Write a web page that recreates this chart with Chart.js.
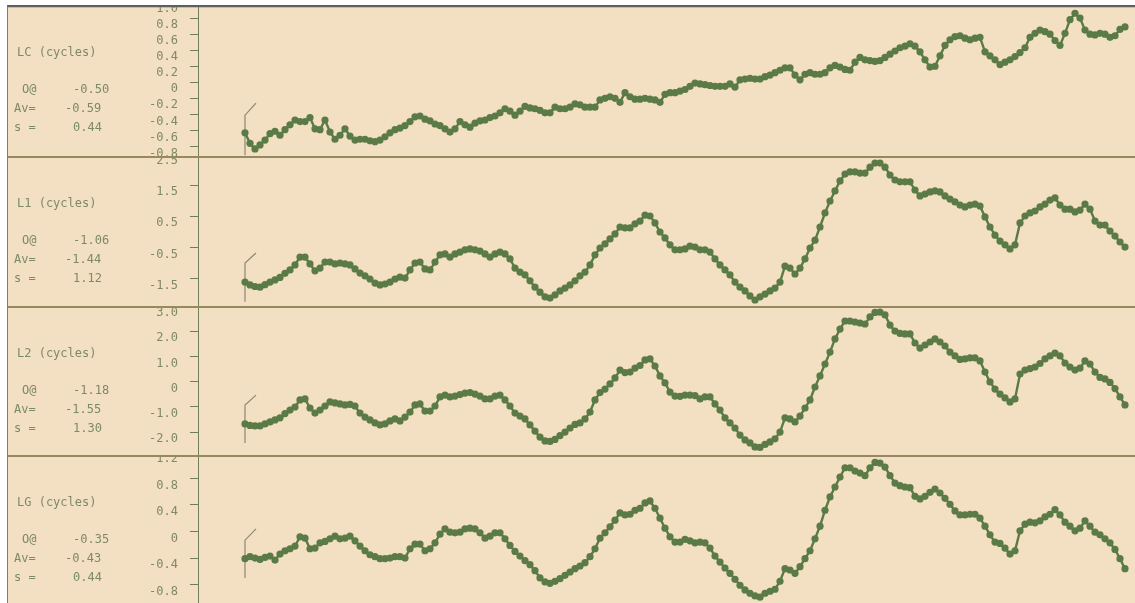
<!DOCTYPE html>
<html>
<head>
<meta charset="utf-8">
<script src="https://cdn.jsdelivr.net/npm/chart.js@4.4.1/dist/chart.umd.min.js"></script>
<style>
  html, body { margin: 0; padding: 0; background: #ffffff; width: 1135px; height: 603px; overflow: hidden; }
  #frame { position: absolute; left: 7px; top: 5px; width: 1128px; height: 598px; background: #f3dfc1;
           border-left: 1px solid #7c7c78; border-top: 2px solid #5f5f5c; box-sizing: border-box; }
  #frame::after { content: ""; position: absolute; left: 0; right: 0; top: 0; height: 1px; background: #dcb980; }
  canvas { position: absolute; left: 0; }
  .sep { position: absolute; left: 8px; width: 1127px; height: 2px; background: #958a5f; z-index: 5; }
  .txt { position: absolute; font-family: "DejaVu Sans Mono", monospace; font-size: 12px; line-height: 14px;
         color: #7d8a68; white-space: pre; z-index: 4; }
</style>
</head>
<body>
<div id="frame"></div>
<script>
// Trace names and their summary statistics (origin, average, spread)
const panelNames = ['LC', 'L1', 'L2', 'LG'];
const originValues = ['-0.50', '-1.06', '-1.18', '-0.35'];
const averageValues = ['-0.59', '-1.44', '-1.55', '-0.43'];
const spreadValues = ['0.44', '1.12', '1.30', '0.44'];

// Phase series in cycles, one sample per epoch
const lcValues = [
  -0.63, -0.76, -0.83, -0.78, -0.72, -0.64, -0.61, -0.66, -0.59, -0.53,
  -0.47, -0.49, -0.49, -0.44, -0.58, -0.59, -0.47, -0.62, -0.71, -0.66,
  -0.58, -0.67, -0.72, -0.71, -0.71, -0.73, -0.74, -0.72, -0.68, -0.63,
  -0.59, -0.57, -0.54, -0.49, -0.43, -0.42, -0.46, -0.48, -0.52, -0.54,
  -0.58, -0.62, -0.58, -0.49, -0.53, -0.56, -0.51, -0.48, -0.47, -0.44,
  -0.42, -0.38, -0.33, -0.36, -0.41, -0.36, -0.30, -0.32, -0.33, -0.35,
  -0.38, -0.38, -0.31, -0.33, -0.33, -0.31, -0.27, -0.28, -0.31, -0.31,
  -0.31, -0.22, -0.20, -0.18, -0.20, -0.25, -0.13, -0.18, -0.21, -0.21,
  -0.20, -0.21, -0.22, -0.25, -0.15, -0.13, -0.13, -0.11, -0.09, -0.05,
  -0.01, -0.02, -0.03, -0.04, -0.05, -0.05, -0.05, -0.02, -0.06, 0.03,
  0.04, 0.05, 0.04, 0.04, 0.07, 0.09, 0.12, 0.15, 0.18, 0.18,
  0.09, 0.03, 0.10, 0.12, 0.10, 0.10, 0.12, 0.18, 0.21, 0.19,
  0.16, 0.15, 0.25, 0.31, 0.28, 0.27, 0.26, 0.27, 0.31, 0.35,
  0.39, 0.43, 0.45, 0.48, 0.45, 0.38, 0.28, 0.19, 0.20, 0.33,
  0.46, 0.53, 0.57, 0.58, 0.55, 0.53, 0.55, 0.56, 0.38, 0.33,
  0.28, 0.22, 0.25, 0.28, 0.32, 0.37, 0.43, 0.56, 0.61, 0.65,
  0.63, 0.60, 0.52, 0.46, 0.61, 0.78, 0.86, 0.80, 0.65, 0.60,
  0.59, 0.61, 0.60, 0.56, 0.58, 0.66, 0.69
];
const l1Values = [
  -1.60, -1.69, -1.74, -1.76, -1.68, -1.60, -1.53, -1.45, -1.32, -1.21,
  -1.05, -0.80, -0.80, -1.02, -1.24, -1.15, -0.96, -0.96, -1.02, -0.99,
  -1.02, -1.05, -1.18, -1.31, -1.40, -1.50, -1.63, -1.69, -1.66, -1.60,
  -1.50, -1.44, -1.47, -1.21, -0.99, -0.96, -1.18, -1.21, -0.96, -0.73,
  -0.70, -0.80, -0.70, -0.64, -0.57, -0.54, -0.57, -0.61, -0.70, -0.80,
  -0.70, -0.64, -0.70, -0.86, -1.15, -1.28, -1.37, -1.56, -1.76, -1.92,
  -2.07, -2.11, -2.01, -1.88, -1.79, -1.69, -1.56, -1.40, -1.28, -1.05,
  -0.73, -0.51, -0.38, -0.22, -0.06, 0.16, 0.13, 0.13, 0.26, 0.35,
  0.54, 0.51, 0.29, 0.00, -0.19, -0.41, -0.57, -0.57, -0.54, -0.45,
  -0.48, -0.57, -0.57, -0.64, -0.86, -1.05, -1.21, -1.37, -1.60, -1.76,
  -1.88, -2.04, -2.17, -2.07, -1.98, -1.88, -1.79, -1.60, -1.09, -1.15,
  -1.34, -1.15, -0.86, -0.51, -0.26, 0.16, 0.61, 0.99, 1.31, 1.63,
  1.85, 1.92, 1.92, 1.88, 1.88, 2.07, 2.20, 2.20, 2.07, 1.82,
  1.66, 1.60, 1.60, 1.60, 1.34, 1.15, 1.21, 1.28, 1.31, 1.28,
  1.15, 1.05, 0.96, 0.86, 0.80, 0.86, 0.89, 0.83, 0.48, 0.16,
  -0.10, -0.29, -0.41, -0.54, -0.41, 0.29, 0.51, 0.61, 0.67, 0.80,
  0.89, 1.02, 1.09, 0.86, 0.73, 0.73, 0.64, 0.70, 0.89, 0.73,
  0.35, 0.22, 0.22, 0.03, -0.13, -0.32, -0.48
];
const l2Values = [
  -1.67, -1.73, -1.75, -1.75, -1.67, -1.59, -1.51, -1.43, -1.26, -1.12,
  -1.00, -0.72, -0.68, -1.04, -1.24, -1.12, -0.96, -0.80, -0.84, -0.88,
  -0.92, -0.90, -0.96, -1.24, -1.40, -1.51, -1.63, -1.71, -1.67, -1.55,
  -1.47, -1.55, -1.40, -1.20, -0.92, -0.88, -1.16, -1.16, -0.96, -0.60,
  -0.53, -0.60, -0.57, -0.51, -0.45, -0.43, -0.49, -0.57, -0.68, -0.68,
  -0.57, -0.53, -0.72, -0.96, -1.24, -1.36, -1.47, -1.71, -1.95, -2.19,
  -2.34, -2.36, -2.28, -2.13, -1.99, -1.83, -1.69, -1.63, -1.47, -1.20,
  -0.72, -0.43, -0.29, -0.09, 0.15, 0.46, 0.36, 0.38, 0.54, 0.64,
  0.86, 0.90, 0.62, 0.23, -0.05, -0.41, -0.57, -0.58, -0.53, -0.53,
  -0.55, -0.68, -0.60, -0.60, -0.88, -1.12, -1.43, -1.63, -1.83, -2.11,
  -2.30, -2.42, -2.58, -2.60, -2.48, -2.38, -2.26, -1.99, -1.43, -1.47,
  -1.59, -1.36, -1.04, -0.72, -0.21, 0.23, 0.70, 1.17, 1.69, 2.08,
  2.40, 2.40, 2.36, 2.32, 2.28, 2.56, 2.74, 2.75, 2.64, 2.24,
  2.00, 1.91, 1.89, 1.89, 1.53, 1.33, 1.45, 1.57, 1.69, 1.57,
  1.41, 1.17, 1.02, 0.88, 0.90, 0.94, 0.94, 0.82, 0.38, -0.01,
  -0.29, -0.49, -0.64, -0.80, -0.68, 0.30, 0.46, 0.52, 0.58, 0.72,
  0.90, 1.02, 1.13, 1.02, 0.74, 0.58, 0.46, 0.54, 0.82, 0.70,
  0.38, 0.17, 0.11, -0.03, -0.27, -0.60, -0.92
];
const lgValues = [
  -0.41, -0.38, -0.40, -0.42, -0.39, -0.37, -0.43, -0.34, -0.29, -0.26,
  -0.22, -0.08, -0.10, -0.26, -0.25, -0.17, -0.15, -0.11, -0.07, -0.11,
  -0.10, -0.07, -0.14, -0.22, -0.29, -0.35, -0.38, -0.41, -0.41, -0.40,
  -0.38, -0.38, -0.40, -0.26, -0.19, -0.19, -0.29, -0.26, -0.17, -0.04,
  0.04, -0.01, -0.02, -0.01, 0.04, 0.05, 0.04, -0.02, -0.10, -0.07,
  -0.02, -0.02, -0.11, -0.21, -0.30, -0.37, -0.44, -0.50, -0.59, -0.70,
  -0.76, -0.78, -0.75, -0.71, -0.66, -0.61, -0.56, -0.52, -0.47, -0.38,
  -0.26, -0.10, -0.02, 0.07, 0.17, 0.28, 0.25, 0.26, 0.32, 0.35,
  0.43, 0.46, 0.35, 0.20, 0.05, -0.08, -0.16, -0.16, -0.12, -0.14,
  -0.17, -0.16, -0.17, -0.25, -0.37, -0.46, -0.55, -0.63, -0.72, -0.81,
  -0.88, -0.93, -0.97, -0.99, -0.93, -0.90, -0.87, -0.75, -0.56, -0.58,
  -0.63, -0.53, -0.41, -0.29, -0.11, 0.08, 0.32, 0.52, 0.67, 0.82,
  0.96, 0.96, 0.91, 0.88, 0.84, 0.96, 1.04, 1.03, 0.97, 0.84,
  0.73, 0.69, 0.67, 0.66, 0.53, 0.49, 0.53, 0.59, 0.64, 0.58,
  0.50, 0.41, 0.31, 0.25, 0.25, 0.26, 0.26, 0.20, 0.08, -0.05,
  -0.16, -0.18, -0.25, -0.34, -0.29, 0.01, 0.11, 0.14, 0.13, 0.16,
  0.22, 0.26, 0.33, 0.25, 0.14, 0.08, 0.01, 0.05, 0.16, 0.08,
  -0.01, -0.05, -0.11, -0.17, -0.27, -0.41, -0.56
];

// Start markers: foot, knee and tip of the bracket drawn at the first epoch
const startMarkX = [0, 0, 2.2];
const lcStartMark = [-0.91, -0.41, -0.26];
const l1StartMark = [-2.23, -0.99, -0.67];
const l2StartMark = [-2.42, -0.92, -0.53];
const lgStartMark = [-0.70, -0.13, 0.04];

// Y-axis tick values per trace
const lcTicks = [-0.8, -0.6, -0.4, -0.2, 0, 0.2, 0.4, 0.6, 0.8, 1.0];
const l1Ticks = [-2.5, -1.5, -0.5, 0.5, 1.5, 2.5];
const l2Ticks = [-3.0, -2.0, -1.0, 0, 1.0, 2.0, 3.0];
const lgTicks = [-0.8, -0.4, 0, 0.4, 0.8, 1.2];

const seriesList = [lcValues, l1Values, l2Values, lgValues];
const startMarks = [lcStartMark, l1StartMark, l2StartMark, lgStartMark];
const tickLists = [lcTicks, l1Ticks, l2Ticks, lgTicks];

// Strip layout (pixels) and visible y ranges
const strips = [
  { top: 7,   height: 150, min: -0.931, max: 0.938 },
  { top: 158, height: 149, min: -2.394, max: 2.362 },
  { top: 308, height: 148, min: -2.937, max: 2.913 },
  { top: 457, height: 146, min: -1.077, max: 1.122 }
];
const separatorY = [156, 306, 455];

const DOT = '#5a7a46';
const AXIS = '#717d5b';
const LABEL = '#7d8a68';
const MARK = '#8a8a72';
const MONO = '"DejaVu Sans Mono", monospace';

function addText(str, left, centerY) {
  const d = document.createElement('div');
  d.className = 'txt';
  d.textContent = str;
  d.style.left = left + 'px';
  d.style.top = (centerY - 7) + 'px';
  document.body.appendChild(d);
}

strips.forEach((s, p) => {
  const canvas = document.createElement('canvas');
  canvas.width = 1135;
  canvas.height = s.height;
  canvas.style.top = s.top + 'px';
  document.body.appendChild(canvas);

  const values = seriesList[p];
  const ticks = tickLists[p];

  new Chart(canvas, {
    type: 'line',
    data: {
      datasets: [
        {
          data: values.map((v, i) => ({ x: i, y: v })),
          borderColor: DOT,
          borderWidth: 2.4,
          pointRadius: 3.6,
          pointHoverRadius: 3.6,
          pointBackgroundColor: DOT,
          pointBorderWidth: 0,
          tension: 0,
          fill: false
        },
        {
          data: startMarkX.map((x, k) => ({ x: x, y: startMarks[p][k] })),
          borderColor: MARK,
          borderWidth: 1.2,
          pointRadius: 0,
          tension: 0,
          fill: false
        }
      ]
    },
    options: {
      responsive: false,
      animation: false,
      devicePixelRatio: 1,
      events: [],
      layout: { padding: 0, autoPadding: false },
      plugins: { legend: { display: false }, tooltip: { enabled: false } },
      scales: {
        x: { type: 'linear', min: -9.4, max: 178, display: false },
        y: {
          type: 'linear',
          position: 'left',
          min: s.min,
          max: s.max,
          afterFit: sc => { sc.width = 198; sc.paddingTop = 0; sc.paddingBottom = 0; },
          afterBuildTicks: sc => { sc.ticks = ticks.map(v => ({ value: v })); },
          ticks: {
            autoSkip: false,
            padding: 12,
            labelOffset: 7,
            color: LABEL,
            font: { family: MONO, size: 12 },
            callback: v => (v === 0 ? '0' : Number(v).toFixed(1))
          },
          grid: { drawOnChartArea: false, drawTicks: true, tickLength: 8, color: AXIS, lineWidth: 1 },
          border: { display: true, color: AXIS, width: 1 }
        }
      }
    }
  });

  addText(panelNames[p] + ' (cycles)', 17, s.top + 45);
  addText('O@', 22, s.top + 82);
  addText(originValues[p], 73, s.top + 82);
  addText('Av=', 14, s.top + 101);
  addText(averageValues[p], 65, s.top + 101);
  addText('s =', 14, s.top + 120);
  addText(spreadValues[p], 73, s.top + 120);
});

separatorY.forEach(y => {
  const d = document.createElement('div');
  d.className = 'sep';
  d.style.top = y + 'px';
  document.body.appendChild(d);
});
</script>
</body>
</html>
